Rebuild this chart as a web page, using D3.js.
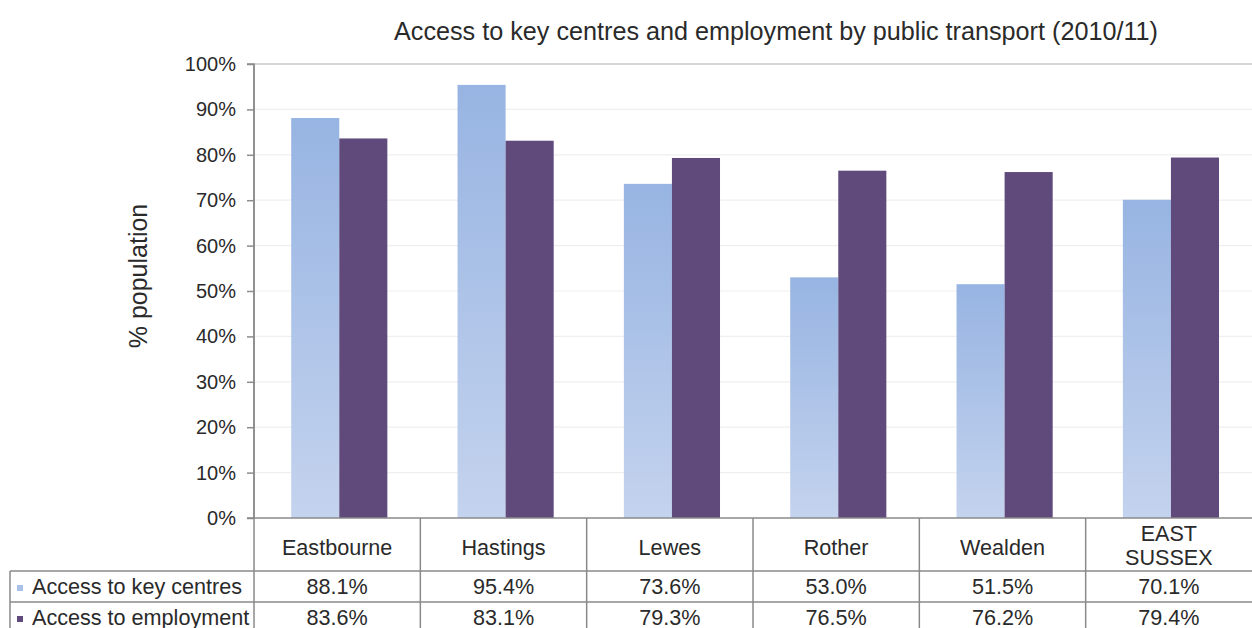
<!DOCTYPE html>
<html>
<head>
<meta charset="utf-8">
<script src="https://cdn.jsdelivr.net/npm/d3@7"></script>
<style>
  html, body { margin: 0; padding: 0; background: #fff; }
  svg { display: block; font-family: "Liberation Sans", Arial, sans-serif; }
</style>
</head>
<body>
<svg id="chart" width="1252" height="628"></svg>
<script>
// Chart data
const title = "Access to key centres and employment by public transport (2010/11)";
const categories = ["Eastbourne", "Hastings", "Lewes", "Rother", "Wealden", "EAST SUSSEX"];
const seriesNames = ["Access to key centres", "Access to employment"];
const keyCentres = [88.1, 95.4, 73.6, 53.0, 51.5, 70.1];
const employment = [83.6, 83.1, 79.3, 76.5, 76.2, 79.4];
const yTicks = [0, 10, 20, 30, 40, 50, 60, 70, 80, 90, 100];
const yLabel = "% population";

const series = [keyCentres, employment];

const svg = d3.select("#chart");
const W = 1252, H = 628;
const plot = { left: 254, right: 1252, top: 64, bottom: 518 };
const tableLeft = 10;
const rowTops = [518, 571, 602, 640];
const textColor = "#2a2a2a";
const tableFont = "21.6px";

const x = d3.scaleBand().domain(categories).range([plot.left, plot.right]).paddingInner(0).paddingOuter(0);
const inner = d3.scaleBand().domain([0, 1]).range([0, x.bandwidth()])
  .paddingInner(0).paddingOuter(0.73).align(0.53);
const y = d3.scaleLinear().domain([0, 100]).range([plot.bottom, plot.top]);

// gradient for the key-centres bars
const defs = svg.append("defs");
const grad = defs.append("linearGradient").attr("id", "lightGrad")
  .attr("x1", 0).attr("y1", 0).attr("x2", 0).attr("y2", 1);
grad.append("stop").attr("offset", "0%").attr("stop-color", "#97b4e2");
grad.append("stop").attr("offset", "100%").attr("stop-color", "#c4d3ee");

const fills = ["url(#lightGrad)", "#5f4a7b"];
const keyFills = ["#a9c1e8", "#5f4a7b"];

// gridlines
svg.append("g").selectAll("line").data(yTicks.filter(d => d > 0 && d < 100)).join("line")
  .attr("x1", plot.left).attr("x2", plot.right)
  .attr("y1", d => y(d)).attr("y2", d => y(d))
  .attr("stroke", "#efefef").attr("stroke-width", 1.2);
svg.append("line")
  .attr("x1", plot.left).attr("x2", plot.right)
  .attr("y1", y(100)).attr("y2", y(100))
  .attr("stroke", "#c8c8c8").attr("stroke-width", 1.5);

// bars
const groups = svg.append("g").selectAll("g").data(categories).join("g")
  .attr("transform", d => `translate(${x(d)},0)`);
groups.selectAll("rect").data((d, i) => series.map((s, k) => ({ k, v: s[i] }))).join("rect")
  .attr("x", d => inner(d.k))
  .attr("width", inner.bandwidth())
  .attr("y", d => y(d.v))
  .attr("height", d => y(0) - y(d.v))
  .attr("fill", d => fills[d.k]);

// y axis
const yAxis = d3.axisLeft(y).tickValues(yTicks).tickFormat(d => d + "%").tickSize(7).tickPadding(11);
const ya = svg.append("g").attr("transform", `translate(${plot.left},0)`).call(yAxis);
ya.select(".domain").attr("stroke", "#8c8c8c").attr("stroke-width", 1.5).attr("d", `M-7,${y(100)}H0V${y(0)}`);
ya.selectAll(".tick line").attr("stroke", "#8c8c8c").attr("stroke-width", 1.5);
ya.selectAll(".tick text").attr("fill", textColor).style("font-size", "20px")
  .style("font-family", "Liberation Sans, Arial, sans-serif");

// y label
svg.append("text")
  .attr("transform", `translate(147,${(plot.top + plot.bottom) / 2 - 15}) rotate(-90)`)
  .attr("text-anchor", "middle")
  .attr("fill", textColor).style("font-size", "25px").text(yLabel);

// title
svg.append("text").attr("x", 776).attr("y", 40).attr("text-anchor", "middle")
  .attr("fill", textColor).style("font-size", "25.2px").text(title);

// data table
const tbl = svg.append("g");
const lineColor = "#8a8a8a";
// horizontal rules
tbl.append("line").attr("x1", plot.left - 7).attr("x2", plot.right).attr("y1", rowTops[0]).attr("y2", rowTops[0])
  .attr("stroke", lineColor).attr("stroke-width", 1.5);
[rowTops[1], rowTops[2]].forEach(yy => {
  tbl.append("line").attr("x1", tableLeft).attr("x2", plot.right).attr("y1", yy).attr("y2", yy)
    .attr("stroke", lineColor).attr("stroke-width", 1.5);
});
// vertical rules
const colEdges = categories.map(c => x(c));
tbl.selectAll("line.v").data(colEdges).join("line").attr("class", "v")
  .attr("x1", d => d).attr("x2", d => d)
  .attr("y1", (d, i) => i === 0 ? y(100) : rowTops[0]).attr("y2", H)
  .attr("stroke", lineColor).attr("stroke-width", 1.5);
tbl.append("line").attr("x1", tableLeft).attr("x2", tableLeft).attr("y1", rowTops[1]).attr("y2", H)
  .attr("stroke", lineColor).attr("stroke-width", 1.5);

// category header
categories.forEach(c => {
  const cx = x(c) + x.bandwidth() / 2;
  const words = c === "EAST SUSSEX" ? ["EAST", "SUSSEX"] : [c];
  const t = tbl.append("text").attr("x", cx).attr("text-anchor", "middle")
    .attr("fill", textColor).style("font-size", tableFont);
  if (words.length === 1) {
    t.attr("y", 555).text(c);
  } else {
    words.forEach((w, i) => t.append("tspan").attr("x", cx).attr("y", 541 + i * 24).text(w));
  }
});

// series rows
series.forEach((s, k) => {
  const yy = rowTops[k + 1] + 23;
  tbl.append("rect").attr("x", 17).attr("y", yy - 9).attr("width", 6).attr("height", 6).attr("fill", keyFills[k]);
  tbl.append("text").attr("x", 32).attr("y", yy).attr("fill", textColor).style("font-size", tableFont).text(seriesNames[k]);
  s.forEach((v, i) => {
    tbl.append("text").attr("x", x(categories[i]) + x.bandwidth() / 2).attr("y", yy)
      .attr("text-anchor", "middle").attr("fill", textColor).style("font-size", tableFont)
      .text(v.toFixed(1) + "%");
  });
});
</script>
</body>
</html>
